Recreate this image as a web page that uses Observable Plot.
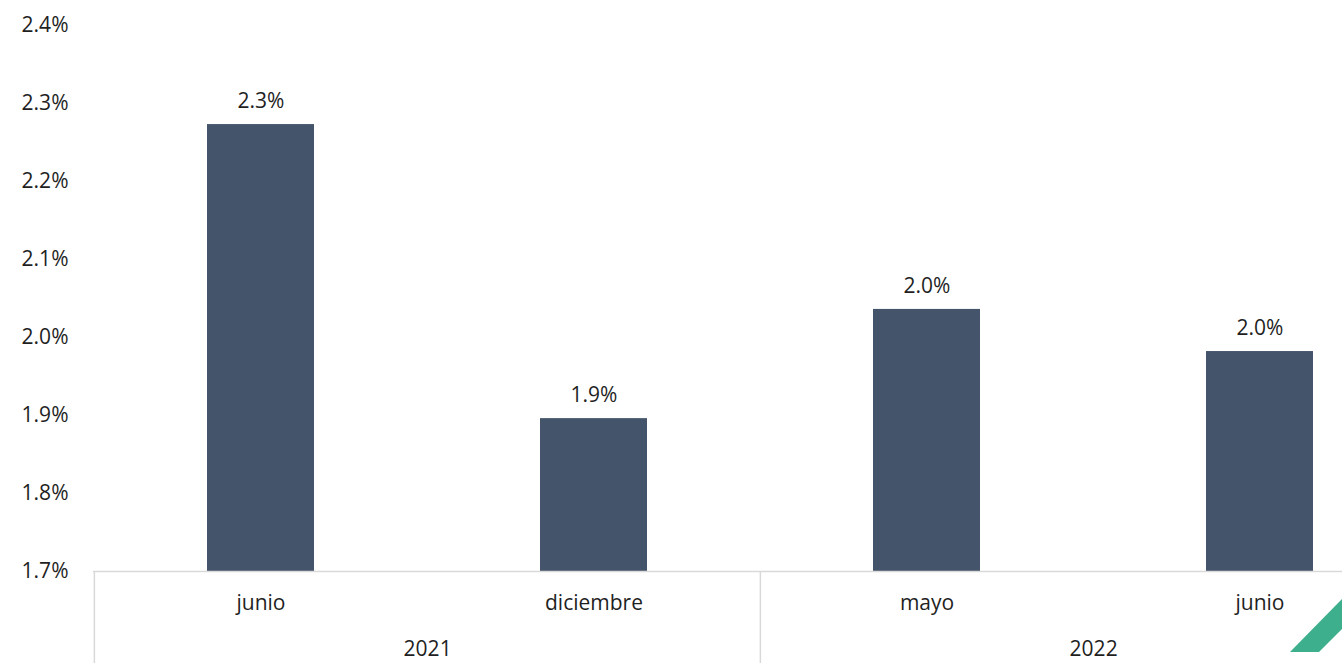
<!DOCTYPE html>
<html>
<head>
<meta charset="utf-8">
<script src="https://cdn.jsdelivr.net/npm/d3@7"></script>
<script src="https://cdn.jsdelivr.net/npm/@observablehq/plot@0.6"></script>
<style>
  html, body { margin: 0; padding: 0; background: #fff; overflow: hidden; }
  #chart { position: relative; width: 1342px; height: 663px; }
  #chart svg.plot { display: block; }
  #logo { position: absolute; left: 0; top: 0; pointer-events: none; }
</style>
</head>
<body>
<div id="chart"></div>
<script>
// ---- data ----
const months = ["junio", "diciembre", "mayo", "junio"];
const years = ["2021", "2021", "2022", "2022"];
const values = [2.273, 1.896, 2.036, 1.982];
const yTicks = [1.7, 1.8, 1.9, 2.0, 2.1, 2.2, 2.3, 2.4];
const yearGroups = ["2021", "2022"];

const data = months.map((m, i) => ({key: years[i] + "-" + m, month: m, year: years[i], value: values[i]}));
const keys = data.map(d => d.key);
const groupFirst = yearGroups.map(y => data.find(d => d.year === y).key);

const W = 1342, H = 663;
const xRange = [93, 1426];   // chart wider than the picture (right part cropped)
const step = (xRange[1] - xRange[0]) / keys.length;
const barInset = 113;
const font = "'Open Sans', 'DejaVu Sans', sans-serif";
const fs = 21;
const textColor = "#1f1f1f";
const gridColor = "#d9d9d9";

const plot = Plot.plot({
  width: W,
  height: H,
  marginLeft: 93,
  marginRight: 0,
  marginTop: 25,
  marginBottom: 92,
  style: {fontFamily: font, fontSize: fs + "px", color: textColor, background: "#fff"},
  x: {type: "band", domain: keys, range: xRange, padding: 0, axis: null},
  y: {domain: [1.7, 2.4], axis: null},
  marks: [
    Plot.axisY(yTicks, {
      tickSize: 0, tickPadding: 25, anchor: "left", label: null,
      tickFormat: d => d.toFixed(1) + "%", fontSize: fs, fill: textColor
    }),
    Plot.barY(data, {
      x: "key", y1: 1.7, y2: "value", fill: "#44546A",
      insetLeft: barInset, insetRight: barInset
    }),
    Plot.text(data, {
      x: "key", y: "value", text: d => d.value.toFixed(1) + "%",
      dy: -23, fontSize: fs, fill: textColor
    }),
    Plot.ruleY([1.7], {stroke: gridColor, strokeWidth: 1.5}),
    Plot.ruleX(groupFirst, {
      x: d => d, dx: -step / 2, stroke: gridColor, strokeWidth: 1.5,
      insetTop: H - 25 - 92, insetBottom: -92
    }),
    Plot.text(data, {
      x: "key", text: "month", frameAnchor: "bottom", dy: 38,
      fontSize: fs, fill: textColor
    }),
    Plot.text(yearGroups, {
      x: (y) => groupFirst[yearGroups.indexOf(y)], text: d => d,
      frameAnchor: "bottom", dx: step / 2, dy: 84,
      fontSize: fs, fill: textColor
    })
  ]
});
document.getElementById("chart").appendChild(plot);

// decorative corner logo (partially cropped, as in the reference)
const ns = "http://www.w3.org/2000/svg";
const logo = document.createElementNS(ns, "svg");
logo.setAttribute("id", "logo");
logo.setAttribute("width", W);
logo.setAttribute("height", H);
const poly = document.createElementNS(ns, "polygon");
poly.setAttribute("points", "1290,652 1319,652 1342,629 1342,599");
poly.setAttribute("fill", "#3daf8c");
logo.appendChild(poly);
document.getElementById("chart").appendChild(logo);
</script>
</body>
</html>
